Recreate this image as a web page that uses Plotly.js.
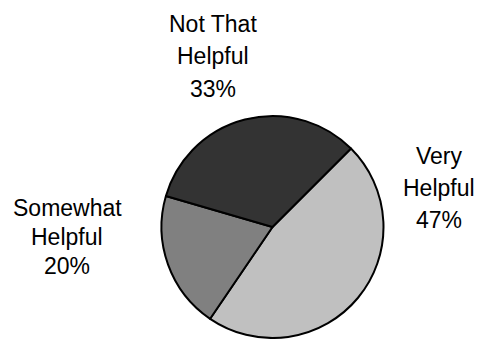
<!DOCTYPE html>
<html>
<head>
<meta charset="utf-8">
<script src="https://cdn.plot.ly/plotly-3.0.1.min.js"></script>
<style>html,body{margin:0;padding:0;background:#fff;}#chart{width:485px;height:339px;}</style>
</head>
<body>
<div id="chart"></div>
<script>
// Data
const categories = ["Very Helpful", "Somewhat Helpful", "Not That Helpful"];
const labelLines = [["Very", "Helpful"], ["Somewhat", "Helpful"], ["Not That", "Helpful"]];
const values = [47, 20, 33];
const colors = ["#c0c0c0", "#808080", "#333333"];

// label placement (pixel centers of each text line)
const W = 485, H = 339;
const labelX = [439, 67, 212.5];
const labelY = [[155.5, 187.5, 220], [208.5, 237, 266], [23.5, 56, 88.5]];

const annotations = [];
categories.forEach((c, i) => {
  const lines = labelLines[i].concat([values[i] + "%"]);
  lines.forEach((t, j) => {
    annotations.push({
      text: t, xref: "paper", yref: "paper",
      x: labelX[i] / W, y: 1 - labelY[i][j] / H,
      xanchor: "center", yanchor: "middle",
      showarrow: false,
      font: {family: "Liberation Sans, Arial, sans-serif", size: 23, color: "#000"}
    });
  });
});

const cx = 272.5, cy = 227, r = 111;
Plotly.newPlot("chart", [{
  type: "pie",
  labels: categories,
  values: values,
  sort: false,
  direction: "clockwise",
  rotation: 45,
  textinfo: "none",
  hoverinfo: "label+percent",
  marker: {colors: colors, line: {color: "#000", width: 2}},
  domain: {x: [(cx - r) / W, (cx + r) / W], y: [1 - (cy + r) / H, 1 - (cy - r) / H]}
}], {
  width: W, height: H,
  margin: {l: 0, r: 0, t: 0, b: 0},
  showlegend: false,
  paper_bgcolor: "#fff",
  annotations: annotations
}, {displayModeBar: false, staticPlot: true});
</script>
</body>
</html>
